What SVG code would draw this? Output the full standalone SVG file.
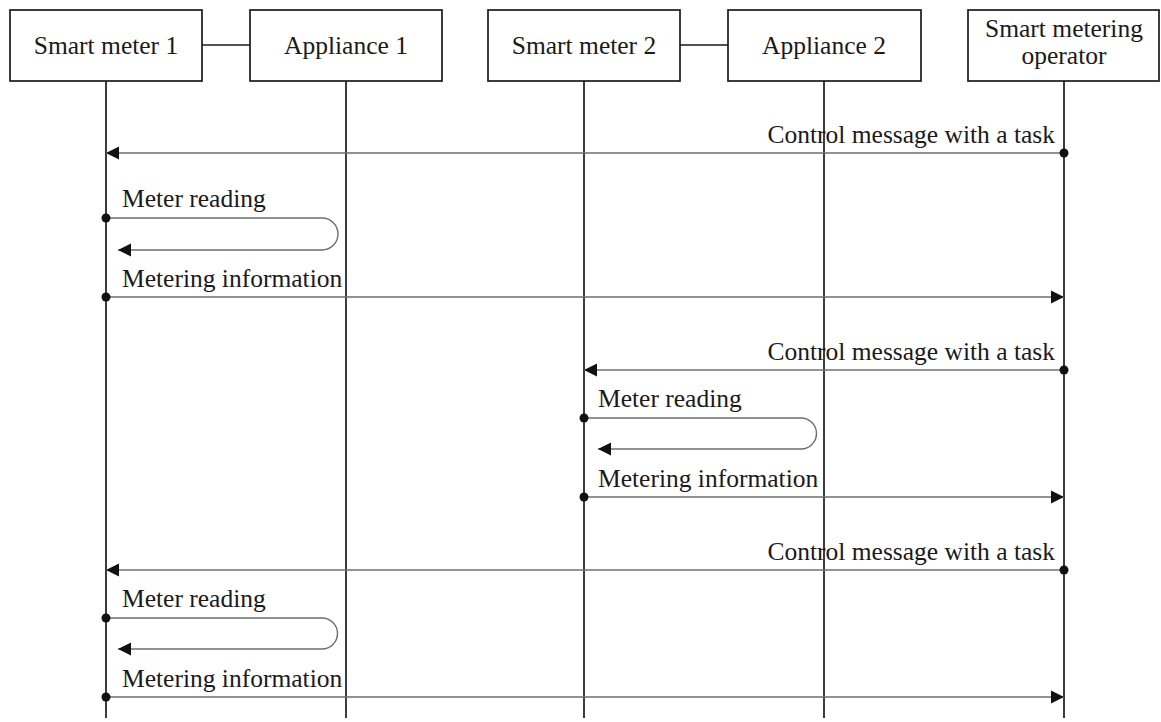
<svg xmlns="http://www.w3.org/2000/svg" width="1161" height="722" viewBox="0 0 1161 722">
<style>
.box{fill:#fff;stroke:#1a1a1a;stroke-width:1.7}
.life{stroke:#1a1a1a;stroke-width:1.7;fill:none}
.link{stroke:#1a1a1a;stroke-width:1.7;fill:none}
.msg{stroke:#6e6e6e;stroke-width:1.4;fill:none;marker-start:url(#dot);marker-end:url(#arr)}
.t{font-family:"Liberation Serif","Times New Roman",serif;font-size:25.5px;fill:#1a1a1a}
.c{text-anchor:middle}
.e{text-anchor:end}
</style>
<defs>
<marker id="arr" markerUnits="userSpaceOnUse" markerWidth="14" markerHeight="14" viewBox="0 0 14 14" refX="13" refY="7" orient="auto">
<path d="M0,0.5 L13,7 L0,13.5 Z" fill="#111"/>
</marker>
<marker id="dot" markerUnits="userSpaceOnUse" markerWidth="12" markerHeight="12" viewBox="0 0 12 12" refX="6" refY="6" orient="auto">
<circle cx="6" cy="6" r="4.5" fill="#111"/>
</marker>
</defs>
<g id="lifelines">
<line class="life" x1="106" y1="81" x2="106" y2="718"/>
<line class="life" x1="346" y1="81" x2="346" y2="718"/>
<line class="life" x1="584" y1="81" x2="584" y2="718"/>
<line class="life" x1="824" y1="81" x2="824" y2="718"/>
<line class="life" x1="1064" y1="81" x2="1064" y2="718"/>
</g>
<g id="sm1"><rect class="box" x="10" y="10" width="192" height="71"/><text class="t c" x="106" y="54">Smart meter 1</text></g>
<g id="app1"><rect class="box" x="250" y="10" width="192" height="71"/><text class="t c" x="346" y="54">Appliance 1</text></g>
<g id="sm2"><rect class="box" x="488" y="10" width="192" height="71"/><text class="t c" x="584" y="54">Smart meter 2</text></g>
<g id="app2"><rect class="box" x="728" y="10" width="193" height="71"/><text class="t c" x="824" y="54">Appliance 2</text></g>
<g id="operator"><rect class="box" x="968" y="10" width="191" height="71"/><text class="t c" x="1064" y="37">Smart metering</text><text class="t c" x="1064" y="64">operator</text></g>
<g id="connectors">
<line class="link" x1="202" y1="45" x2="250" y2="45"/>
<line class="link" x1="680" y1="45" x2="728" y2="45"/>
<path class="msg" d="M1064,153 H106"/>
<path class="msg" d="M106,218 H322 A16,16 0 0 1 322,250 H118"/>
<path class="msg" d="M106,297 H1064"/>
<path class="msg" d="M1064,370 H584"/>
<path class="msg" d="M584,418 H801 A15.5,15.5 0 0 1 801,449 H598"/>
<path class="msg" d="M584,497 H1064"/>
<path class="msg" d="M1064,570 H106"/>
<path class="msg" d="M106,618 H322 A15.5,15.5 0 0 1 322,649 H118"/>
<path class="msg" d="M106,697 H1064"/>
</g>
<g id="labels">
<text class="t e" x="1055" y="143">Control message with a task</text>
<text class="t" x="122" y="207">Meter reading</text>
<text class="t" x="122" y="287">Metering information</text>
<text class="t e" x="1055" y="360">Control message with a task</text>
<text class="t" x="598" y="407">Meter reading</text>
<text class="t" x="598" y="487">Metering information</text>
<text class="t e" x="1055" y="560">Control message with a task</text>
<text class="t" x="122" y="607">Meter reading</text>
<text class="t" x="122" y="687">Metering information</text>
</g>
</svg>
